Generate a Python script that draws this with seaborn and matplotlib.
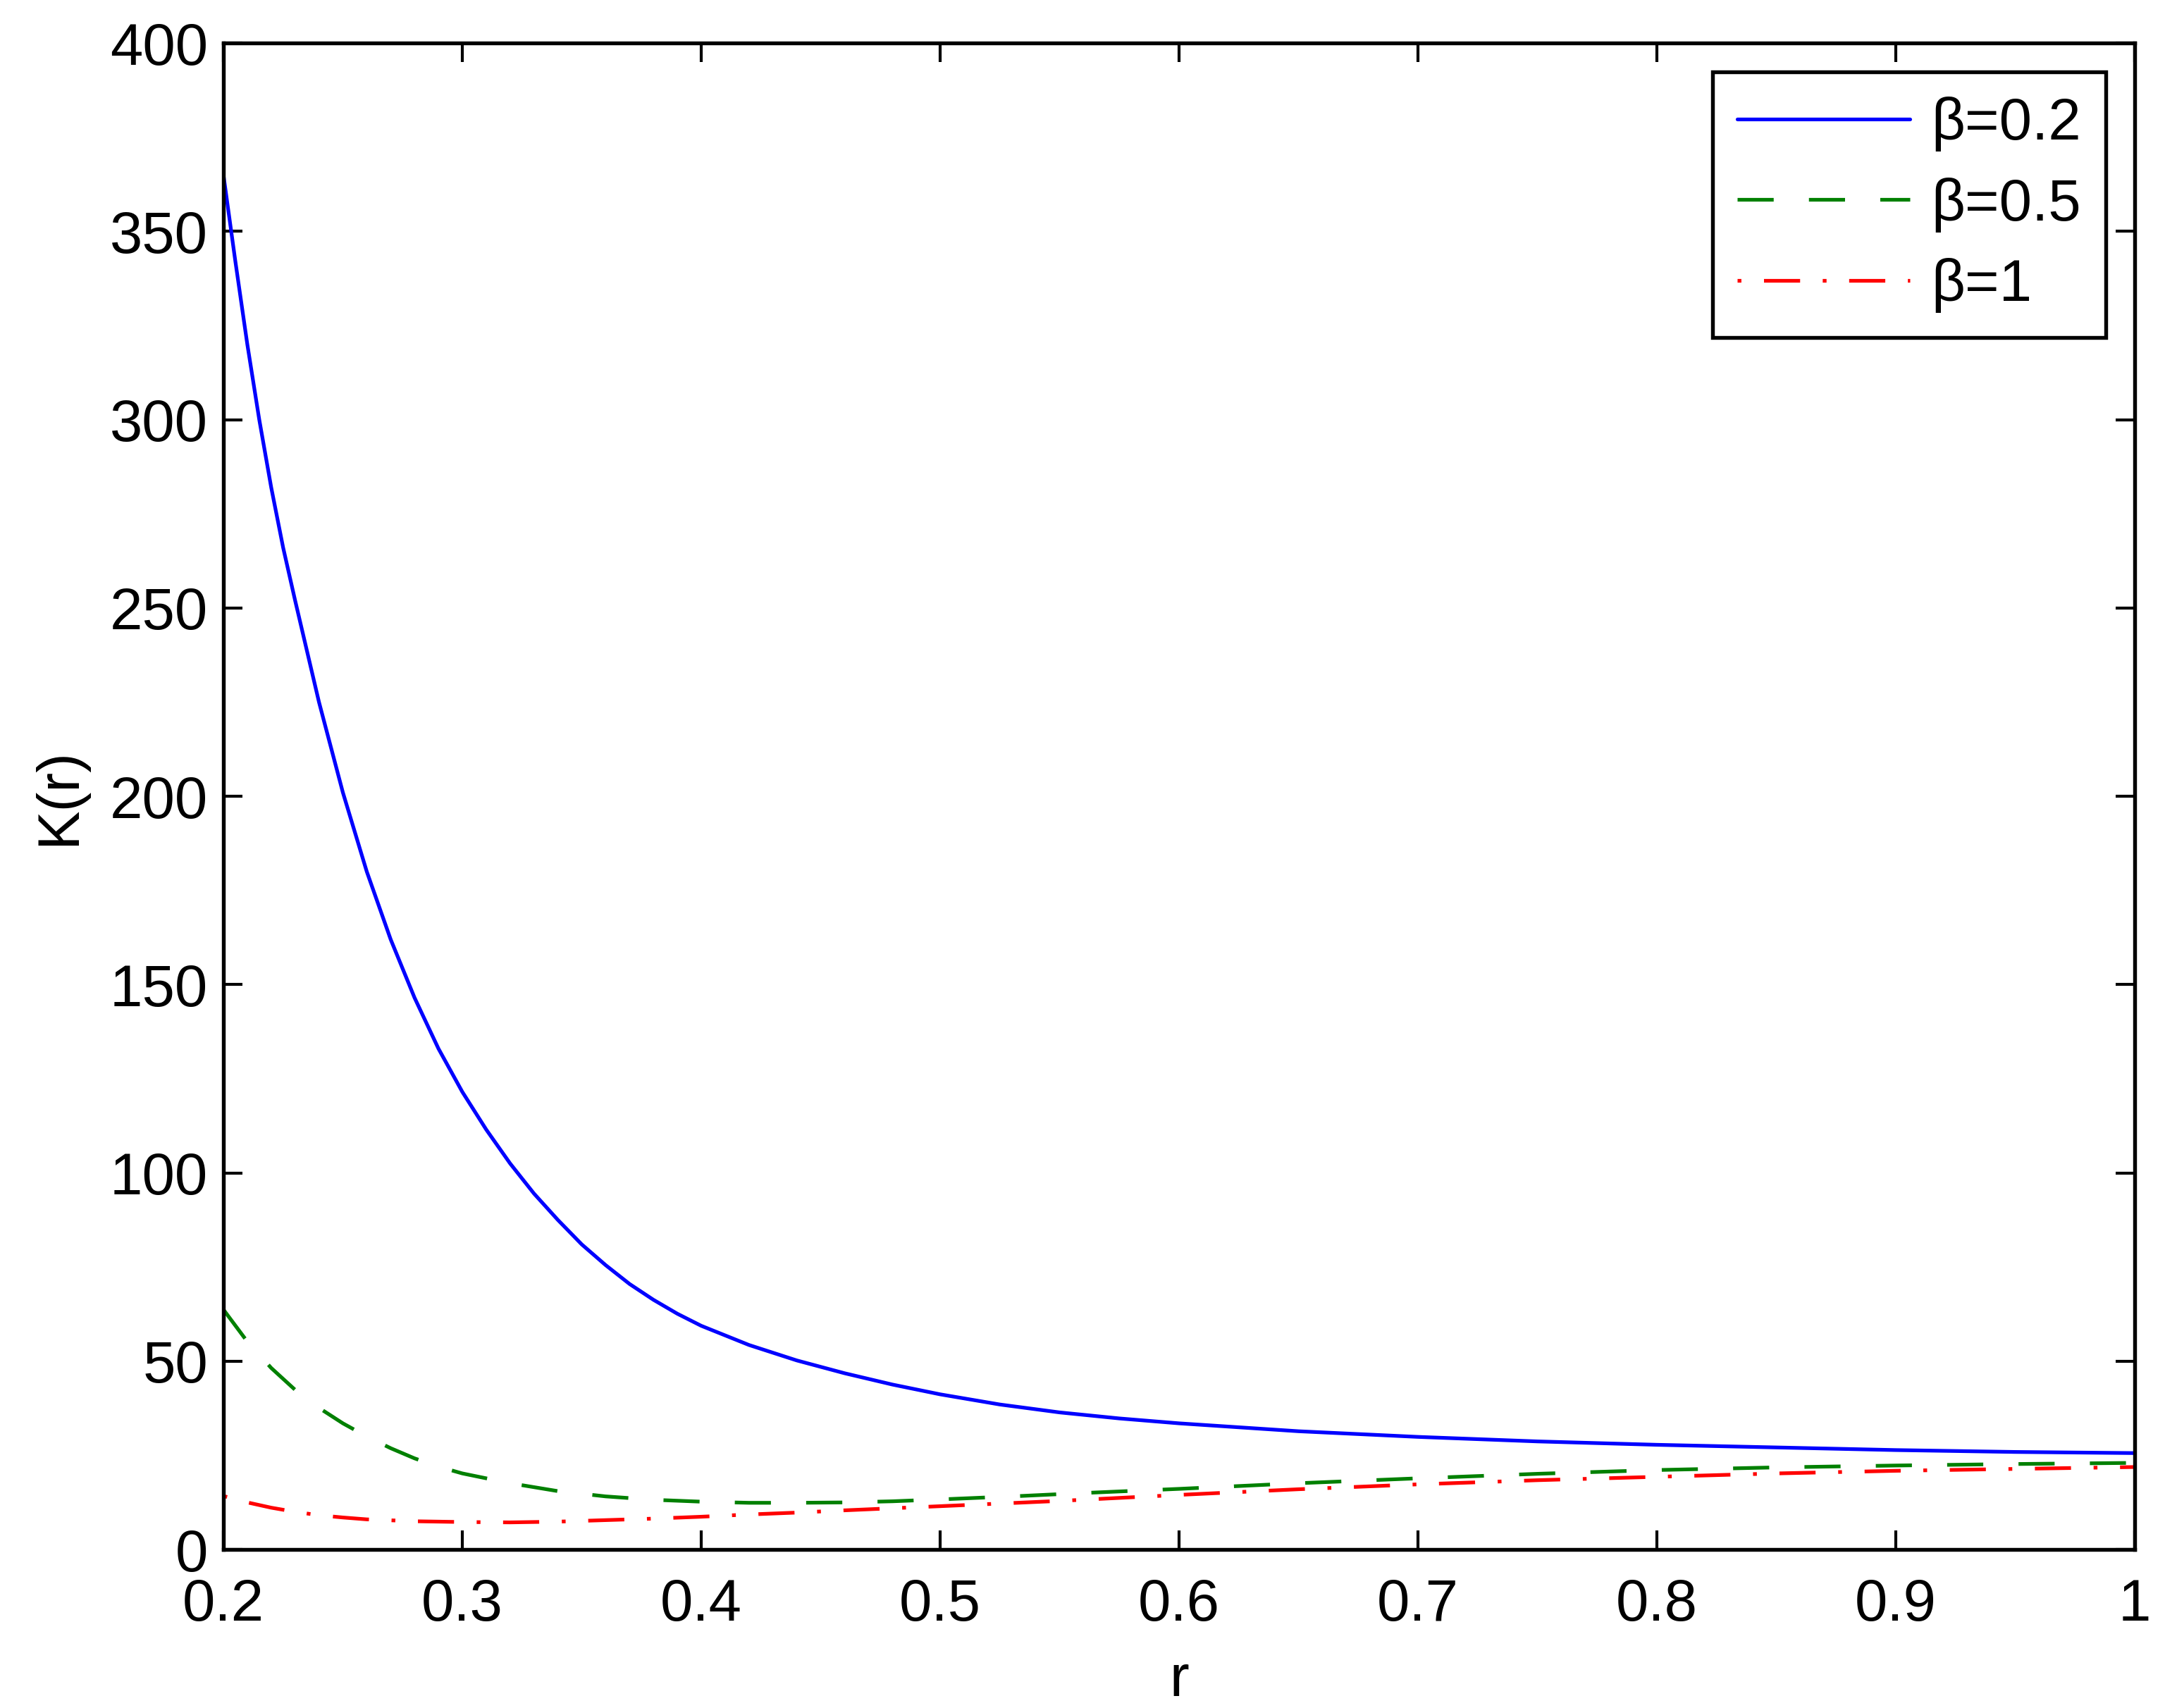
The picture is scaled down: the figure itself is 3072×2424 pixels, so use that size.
import numpy as np
import pandas as pd
import matplotlib
matplotlib.use("Agg")
import matplotlib.pyplot as plt
import seaborn as sns

# values
r_b02 = [0.20, 0.205, 0.21, 0.215, 0.22, 0.225, 0.23, 0.24, 0.25, 0.26, 0.27, 0.28,
         0.29, 0.30, 0.31, 0.32, 0.33, 0.34, 0.35, 0.36, 0.37, 0.38, 0.39, 0.40,
         0.42, 0.44, 0.46, 0.48, 0.50, 0.525, 0.55, 0.575, 0.60, 0.65, 0.70, 0.75,
         0.80, 0.85, 0.90, 0.95, 1.00]
k_b02 = [365, 342, 320, 300, 282, 266, 252, 225, 201, 180, 162, 146.5,
         133, 121.5, 111.5, 102.5, 94.5, 87.5, 81, 75.5, 70.5, 66.3, 62.6, 59.4,
         54.3, 50.2, 46.8, 43.8, 41.2, 38.5, 36.4, 34.8, 33.5, 31.4, 29.9, 28.7,
         27.8, 27.1, 26.4, 25.9, 25.6]

r_b05 = [0.20, 0.21, 0.22, 0.23, 0.24, 0.25, 0.26, 0.27, 0.28, 0.29, 0.30, 0.32,
         0.34, 0.36, 0.38, 0.40, 0.42, 0.44, 0.46, 0.48, 0.50, 0.53, 0.56, 0.60,
         0.65, 0.70, 0.75, 0.80, 0.85, 0.90, 0.95, 1.00]
k_b05 = [63.7, 55.2, 48.2, 42.4, 37.6, 33.5, 30.0, 26.9, 24.2, 22.0, 20.2, 17.6,
         15.5, 14.1, 13.2, 12.7, 12.4, 12.4, 12.5, 12.8, 13.3, 14.1, 15.0, 16.1,
         17.6, 18.9, 20.1, 21.1, 21.8, 22.3, 22.7, 23.0]

r_b1 = [0.20, 0.21, 0.22, 0.23, 0.24, 0.25, 0.26, 0.28, 0.30, 0.32, 0.34, 0.36,
        0.38, 0.40, 0.42, 0.44, 0.46, 0.50, 0.55, 0.60, 0.65, 0.70, 0.75, 0.80,
        0.85, 0.90, 0.95, 1.00]
k_b1 = [14.2, 12.5, 11.1, 10.0, 9.1, 8.5, 8.0, 7.5, 7.3, 7.2, 7.4, 7.8,
        8.2, 8.7, 9.3, 9.8, 10.4, 11.5, 12.9, 14.5, 16.0, 17.3, 18.4, 19.3,
        20.2, 20.9, 21.4, 21.9]

labels = ["\u03b2=0.2", "\u03b2=0.5", "\u03b2=1"]
x_ticks = [0.2, 0.3, 0.4, 0.5, 0.6, 0.7, 0.8, 0.9, 1.0]
x_ticklabels = ["0.2", "0.3", "0.4", "0.5", "0.6", "0.7", "0.8", "0.9", "1"]
y_ticks = [0, 50, 100, 150, 200, 250, 300, 350, 400]

sns.set_style("ticks")
plt.rcParams["font.family"] = ["Liberation Sans", "DejaVu Sans"]
plt.rcParams["text.color"] = "black"
plt.rcParams["axes.labelcolor"] = "black"
plt.rcParams["xtick.color"] = "black"
plt.rcParams["ytick.color"] = "black"
plt.rcParams["lines.scale_dashes"] = False

fig = plt.figure(figsize=(10.24, 8.08), dpi=300)
ax = fig.add_axes([0.1032, 0.0928, 0.8828, 0.882])

sns.lineplot(x=r_b02, y=k_b02, ax=ax, color=(0, 0, 1), linewidth=1.25,
             label=labels[0], sort=False, estimator=None)
sns.lineplot(x=r_b05, y=k_b05, ax=ax, color=(0, 0.5, 0), linewidth=1.25,
             linestyle=(0, (12.3, 12.0)), label=labels[1], sort=False, estimator=None)
sns.lineplot(x=r_b1, y=k_b1, ax=ax, color=(1, 0, 0), linewidth=1.25,
             linestyle=(0, (1.3, 7.7, 12.3, 7.7)), label=labels[2], sort=False, estimator=None)

ax.set_xlim(0.2, 1.0)
ax.set_ylim(0, 400)
ax.set_xticks(x_ticks)
ax.set_xticklabels(x_ticklabels)
ax.set_yticks(y_ticks)
ax.tick_params(direction="in", top=True, right=True, length=6.5, width=1.0,
               labelsize=20)
ax.tick_params(axis="x", pad=9.5)
ax.tick_params(axis="y", pad=5.2)
for s in ax.spines.values():
    s.set_visible(True)
    s.set_color("black")
    s.set_linewidth(1.3)

ax.set_xlabel("r", fontsize=20, labelpad=7)
ax.set_ylabel("K(r)", fontsize=20, labelpad=8)

leg = ax.legend(loc="upper right", fontsize=20, frameon=True, fancybox=False,
                framealpha=1, edgecolor="black", handlelength=2.95,
                handletextpad=0.36, borderpad=0.42, labelspacing=0.44,
                borderaxespad=0.49)
leg.get_frame().set_linewidth(1.3)

fig.savefig("out.png", dpi=300)
